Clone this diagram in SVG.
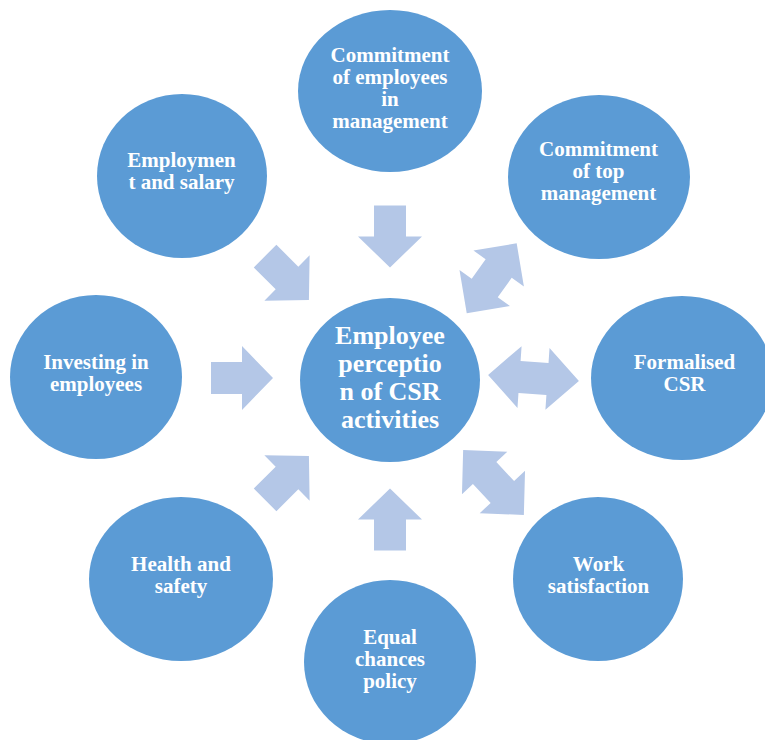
<svg xmlns="http://www.w3.org/2000/svg" width="765" height="740" viewBox="0 0 765 740">
<style>
.n{fill:#5B9BD5}
.t{font-family:"Liberation Serif","Times New Roman",serif;font-weight:bold;fill:#FFFFFF;font-size:21px;text-anchor:middle}
.tc{font-size:26px}
.a{fill:#B4C7E7}
</style>
<rect width="765" height="740" fill="#FFFFFF"/>
<g id="connectors">
<path class="a" d="M-31,-16H0V-32L31,0L0,32V16H-31Z" transform="translate(390,236.5) rotate(90)"/>
<path class="a" d="M-31,-16H0V-32L31,0L0,32V16H-31Z" transform="translate(242,378)"/>
<path class="a" d="M-31,-16H0V-32L31,0L0,32V16H-31Z" transform="translate(390,519.5) rotate(-90)"/>
<path class="a" d="M-31,-16H0V-32L31,0L0,32V16H-31Z" transform="translate(287,278) rotate(45)"/>
<path class="a" d="M-31,-16H0V-32L31,0L0,32V16H-31Z" transform="translate(287,478) rotate(-45)"/>
<path class="a" d="M-45.5,0L-14,-31V-16H14V-31L45.5,0L14,31V16H-14V31Z" transform="translate(533.5,378) rotate(3.8)"/>
<path class="a" d="M-43,0L-12,-31V-16H12V-31L43,0L12,31V16H-12V31Z" transform="translate(491.7,278.3) rotate(-54.5)"/>
<path class="a" d="M-44.5,0L-13,-31V-16H13V-31L44.5,0L13,31V16H-13V31Z" transform="translate(493.5,482.5) rotate(47)"/>
</g>
<g id="node-center">
<ellipse class="n" cx="390" cy="380" rx="90" ry="82"/>
<text class="t tc" x="390" y="344">Employee</text>
<text class="t tc" x="390" y="372">perceptio</text>
<text class="t tc" x="390" y="400">n of CSR</text>
<text class="t tc" x="390" y="428">activities</text>
</g>
<g id="node-commitment-employees">
<ellipse class="n" cx="390" cy="91" rx="92" ry="81"/>
<text class="t" x="390" y="62">Commitment</text>
<text class="t" x="390" y="84">of employees</text>
<text class="t" x="390" y="106">in</text>
<text class="t" x="390" y="128">management</text>
</g>
<g id="node-commitment-top">
<ellipse class="n" cx="599" cy="177" rx="91" ry="82"/>
<text class="t" x="598.5" y="156">Commitment</text>
<text class="t" x="598.5" y="178">of top</text>
<text class="t" x="598.5" y="200">management</text>
</g>
<g id="node-formalised">
<ellipse class="n" cx="682" cy="378" rx="91" ry="82"/>
<text class="t" x="684.5" y="369">Formalised</text>
<text class="t" x="684.5" y="391">CSR</text>
</g>
<g id="node-work">
<ellipse class="n" cx="598" cy="579" rx="85" ry="82"/>
<text class="t" x="598.5" y="571">Work</text>
<text class="t" x="598.5" y="593">satisfaction</text>
</g>
<g id="node-equal">
<ellipse class="n" cx="390" cy="662" rx="86" ry="82"/>
<text class="t" x="390" y="644">Equal</text>
<text class="t" x="390" y="666">chances</text>
<text class="t" x="390" y="688">policy</text>
</g>
<g id="node-health">
<ellipse class="n" cx="181" cy="579" rx="92" ry="82"/>
<text class="t" x="181" y="571">Health and</text>
<text class="t" x="181" y="593">safety</text>
</g>
<g id="node-investing">
<ellipse class="n" cx="96" cy="377" rx="86" ry="82"/>
<text class="t" x="96" y="369">Investing in</text>
<text class="t" x="96" y="391">employees</text>
</g>
<g id="node-employment">
<ellipse class="n" cx="182" cy="176" rx="85" ry="82"/>
<text class="t" x="181.5" y="167">Employmen</text>
<text class="t" x="181.5" y="189">t and salary</text>
</g>
</svg>
